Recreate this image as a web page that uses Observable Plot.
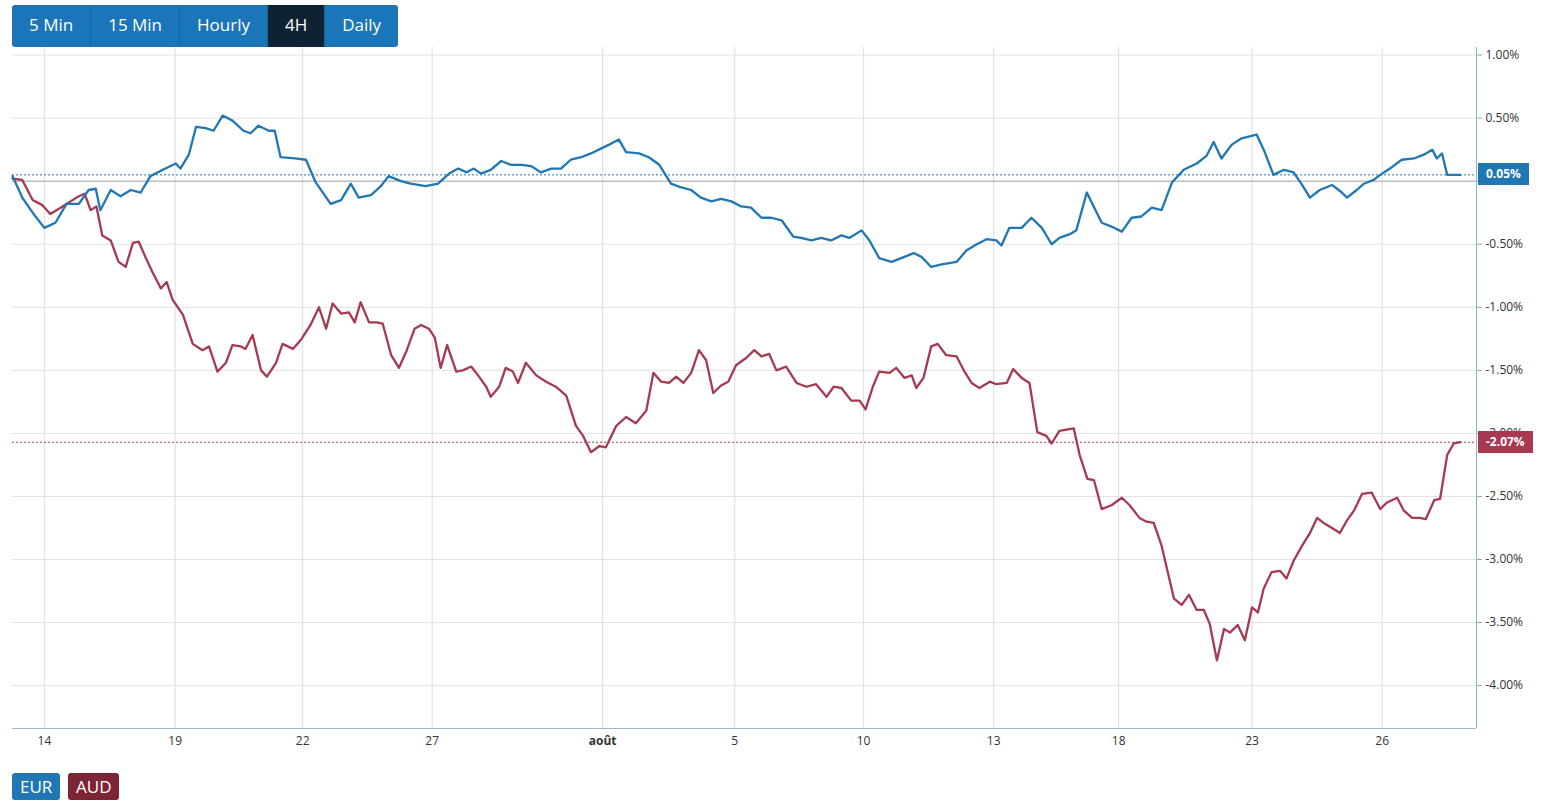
<!DOCTYPE html>
<html><head><meta charset="utf-8">
<script src="https://cdn.jsdelivr.net/npm/d3@7"></script>
<script src="https://cdn.jsdelivr.net/npm/@observablehq/plot@0.6"></script>
<style>
body{margin:0;background:#fff;font-family:"Open Sans",Arial,sans-serif;}
#wrap{position:relative;width:1550px;height:805px;}
.btns{position:absolute;left:12px;top:5px;display:flex;}
.btns div{background:#1a75b9;color:#fff;font-size:17px;height:42px;line-height:40px;padding:0 17px;border-right:1px solid #14649f;}
.btns div.on{background:#0e2233;}
.btns div:first-child{border-radius:3px 0 0 3px}.btns div:last-child{border-radius:0 3px 3px 0;border:none}
#chart{position:absolute;left:0;top:47px;}
.tag{position:absolute;color:#fff;font-weight:bold;font-size:12px;height:22px;line-height:22px;padding:0 8px;left:1478px;}
.leg{position:absolute;top:773px;color:#fff;font-size:17px;height:27px;line-height:27px;padding:0 8px;border-radius:3px;}
</style></head><body>
<div id="wrap">
<div class="btns"><div>5 Min</div><div>15 Min</div><div>Hourly</div><div class="on">4H</div><div>Daily</div></div>
<div id="chart"></div>
<div class="leg" style="left:12px;background:#1f77b4">EUR</div>
<div class="leg" style="left:68px;background:#7d2535">AUD</div>
</div>
<script>
const eurT=[0,1.5,3.1,4.9,6.6,8.3,10.2,11.7,12.8,13.5,15.1,16.6,18.2,19.7,21.2,23.5,25.1,25.8,27.1,28.2,29.7,30.9,32.3,33.8,35.5,36.6,37.8,39.4,40.3,41.2,43.4,45.1,46.6,48.9,50.5,52,53.2,55.1,56.6,57.8,59.7,61.2,63.5,65.4,67.1,68.5,69.8,70.9,72,73.5,75.1,76.6,78.2,79.7,81.2,82.8,84.3,85.8,87.4,88.9,90.5,91.7,93.2,94.3,96.3,97.8,99.4,101.2,102.8,104.3,105.8,107.4,108.9,110.5,112,113.5,115.1,116.6,118.2,120,121.2,122.8,124.3,125.8,127.4,128.6,130.5,131.7,133.2,135.1,136.6,138.5,139.7,141.2,142.8,145.1,146.6,148.2,149.7,151.2,152,153.2,155.1,156.6,158.2,159.7,160.9,162.5,163.5,165.1,167.4,168.9,170.5,172,173.5,175.1,176.6,178.2,180,182,183.5,184.6,185.8,187.4,188.9,191.2,192.3,193.8,195.4,196.9,198.2,199.4,200.9,202.8,204.3,205.1,206.6,207.7,209.2,210.2,211.7,213.5,215.4,216.9,218.2,218.9,219.7,220.5,222.5];
const eurV=[0.04,-0.13,-0.25,-0.37,-0.33,-0.18,-0.18,-0.07,-0.06,-0.23,-0.07,-0.12,-0.07,-0.09,0.04,0.10,0.14,0.10,0.21,0.43,0.42,0.40,0.52,0.48,0.40,0.38,0.44,0.40,0.40,0.19,0.18,0.17,-0.01,-0.18,-0.15,-0.02,-0.13,-0.11,-0.04,0.04,0,-0.02,-0.04,-0.02,0.06,0.10,0.07,0.10,0.06,0.09,0.16,0.13,0.13,0.12,0.07,0.10,0.10,0.17,0.19,0.22,0.26,0.29,0.33,0.23,0.22,0.19,0.13,-0.02,-0.05,-0.07,-0.13,-0.16,-0.14,-0.16,-0.20,-0.21,-0.29,-0.29,-0.31,-0.44,-0.45,-0.47,-0.45,-0.47,-0.43,-0.45,-0.39,-0.47,-0.61,-0.64,-0.61,-0.57,-0.60,-0.68,-0.66,-0.64,-0.55,-0.50,-0.46,-0.47,-0.51,-0.37,-0.37,-0.29,-0.37,-0.50,-0.45,-0.42,-0.39,-0.09,-0.33,-0.36,-0.40,-0.29,-0.28,-0.21,-0.23,-0.01,0.09,0.14,0.20,0.31,0.18,0.29,0.34,0.37,0.25,0.05,0.09,0.07,-0.03,-0.13,-0.07,-0.03,-0.09,-0.13,-0.07,-0.02,0.01,0.05,0.10,0.17,0.18,0.21,0.25,0.18,0.22,0.05,0.05];
const audT=[0,1.5,3.1,4.6,5.8,7.4,8.6,10.2,11.1,12,12.9,13.8,15.1,16.3,17.4,18.5,19.4,20.5,21.5,22.8,23.7,24.6,26.2,27.7,29.2,30.2,31.5,32.8,33.8,35.1,35.8,36.9,38.2,39.1,40.5,41.5,43.1,44.3,45.8,47.1,48.2,49.2,50.5,51.7,52.6,53.5,54.8,56,56.9,58.2,59.4,60.6,61.8,62.8,64,64.9,65.8,66.8,68.2,69.2,70.5,71.7,72.8,73.5,74.8,75.8,76.9,77.7,78.9,80.5,82,83.5,85.1,86.6,87.7,88.9,90.2,91.2,92.8,94.3,95.8,97.4,98.5,99.7,100.9,102,103.1,104.3,105.5,106.6,107.7,108.9,110,111.2,112.8,114,115.1,116.3,117.4,118.9,120.5,122,123.5,125.1,126.2,127.4,128.9,130.2,131.1,132.3,133.2,134.8,135.8,137.1,138.2,138.9,140,141.2,142.2,143.5,145.1,146.2,147.4,148.6,150.2,151.2,152.8,153.8,155.1,156.3,157.5,158.9,159.7,160.9,163.1,164,165.2,166.2,167.4,168.9,170.5,171.7,173.2,174.3,175.4,176.6,178.5,179.7,180.8,182,183.1,184,185.1,186.2,187.1,188.3,189.4,190.5,191.4,192.3,193.5,194.8,195.8,196.9,198.2,199.4,200.5,201.5,202.8,204,205.1,206.2,207.4,208.9,210.2,211.2,212.8,213.8,215.1,216.3,217.2,218.5,219.4,220.5,221.5,222.5];
const audV=[0.02,0.01,-0.15,-0.19,-0.26,-0.21,-0.17,-0.12,-0.10,-0.23,-0.20,-0.43,-0.47,-0.64,-0.68,-0.49,-0.48,-0.61,-0.72,-0.85,-0.80,-0.94,-1.06,-1.29,-1.34,-1.31,-1.51,-1.44,-1.30,-1.31,-1.33,-1.22,-1.50,-1.55,-1.44,-1.29,-1.33,-1.26,-1.14,-1.00,-1.17,-0.97,-1.05,-1.04,-1.12,-0.96,-1.12,-1.12,-1.13,-1.38,-1.48,-1.34,-1.17,-1.14,-1.17,-1.24,-1.48,-1.30,-1.51,-1.50,-1.47,-1.55,-1.63,-1.71,-1.63,-1.48,-1.51,-1.60,-1.44,-1.54,-1.59,-1.63,-1.70,-1.94,-2.02,-2.15,-2.10,-2.11,-1.94,-1.87,-1.92,-1.82,-1.52,-1.59,-1.60,-1.55,-1.60,-1.52,-1.34,-1.42,-1.68,-1.62,-1.59,-1.46,-1.40,-1.34,-1.39,-1.37,-1.50,-1.47,-1.60,-1.63,-1.61,-1.71,-1.63,-1.64,-1.74,-1.74,-1.81,-1.62,-1.51,-1.52,-1.48,-1.56,-1.54,-1.64,-1.56,-1.31,-1.29,-1.38,-1.39,-1.50,-1.60,-1.64,-1.59,-1.61,-1.60,-1.49,-1.56,-1.60,-1.99,-2.02,-2.08,-1.98,-1.96,-2.17,-2.36,-2.37,-2.60,-2.57,-2.51,-2.57,-2.67,-2.70,-2.71,-2.89,-3.31,-3.36,-3.28,-3.40,-3.40,-3.51,-3.80,-3.55,-3.58,-3.52,-3.64,-3.38,-3.42,-3.23,-3.10,-3.09,-3.15,-3.01,-2.89,-2.79,-2.67,-2.71,-2.75,-2.79,-2.69,-2.61,-2.48,-2.47,-2.60,-2.55,-2.51,-2.61,-2.67,-2.67,-2.68,-2.53,-2.52,-2.17,-2.08,-2.07];
const tickPos=[4.9,25,44.6,64.5,90.7,111,130.8,150.8,170,190.5,210.5];
const tickLab=["14","19","22","27","août","5","10","13","18","23","26"];
const yTicks=[1,0.5,0,-0.5,-1,-1.5,-2,-2.5,-3,-3.5,-4];
const eurLast=0.05, audLast=-2.07;
const eur=eurT.map((t,i)=>({t,v:eurV[i]}));
const aud=audT.map((t,i)=>({t,v:audV[i]}));
const BLUE="#1f77b4", RED="#a53a52";
const chart=Plot.plot({
  width:1550,height:711,marginLeft:12,marginRight:74,marginTop:0,marginBottom:30,
  style:{fontFamily:"Open Sans, Arial",fontSize:"12px",color:"#333"},
  x:{domain:[0,225],label:null},
  y:{domain:[-4.34,1.06],label:null},
  marks:[
    Plot.gridX(tickPos,{stroke:"#ddd",strokeOpacity:1}),
    Plot.gridY(yTicks,{stroke:"#e2e2e2",strokeOpacity:1}),
    Plot.ruleY([0],{stroke:"#aaa"}),
    Plot.ruleY([eurLast],{stroke:BLUE,strokeDasharray:"2,2"}),
    Plot.ruleY([audLast],{stroke:RED,strokeDasharray:"2,2"}),
    Plot.axisY({anchor:"right",ticks:yTicks,tickFormat:d=>d.toFixed(2)+"%",tickSize:5,stroke:"#8ab",fontSize:12}),
    Plot.axisX({ticks:tickPos,tickFormat:d=>d===90.7?"":tickLab[tickPos.indexOf(d)],tickSize:0,tickPadding:8,fontSize:12}),
    Plot.text([90.7],{x:d=>d,frameAnchor:"bottom",lineAnchor:"top",dy:8,text:()=>tickLab[4],fontWeight:"bold",fontSize:12}),
    Plot.ruleY([-4.34],{stroke:"#9bc"}),
    Plot.ruleX([225],{stroke:"#8bb"}),
    Plot.line(aud,{x:"t",y:"v",stroke:RED,strokeWidth:2.3}),
    Plot.line(eur,{x:"t",y:"v",stroke:BLUE,strokeWidth:2.3})
  ]
});
document.getElementById("chart").append(chart);
const ys=chart.scale("y");
const wrap=document.getElementById("wrap");
[[eurLast,BLUE],[audLast,RED]].forEach(([v,c])=>{
  const d=document.createElement("div");d.className="tag";d.style.background=c;
  d.style.top=(47+ys.apply(v)-11)+"px";
  d.textContent=(v<0?"-":"")+Math.abs(v).toFixed(2)+"%";wrap.append(d);
});
</script></body></html>
